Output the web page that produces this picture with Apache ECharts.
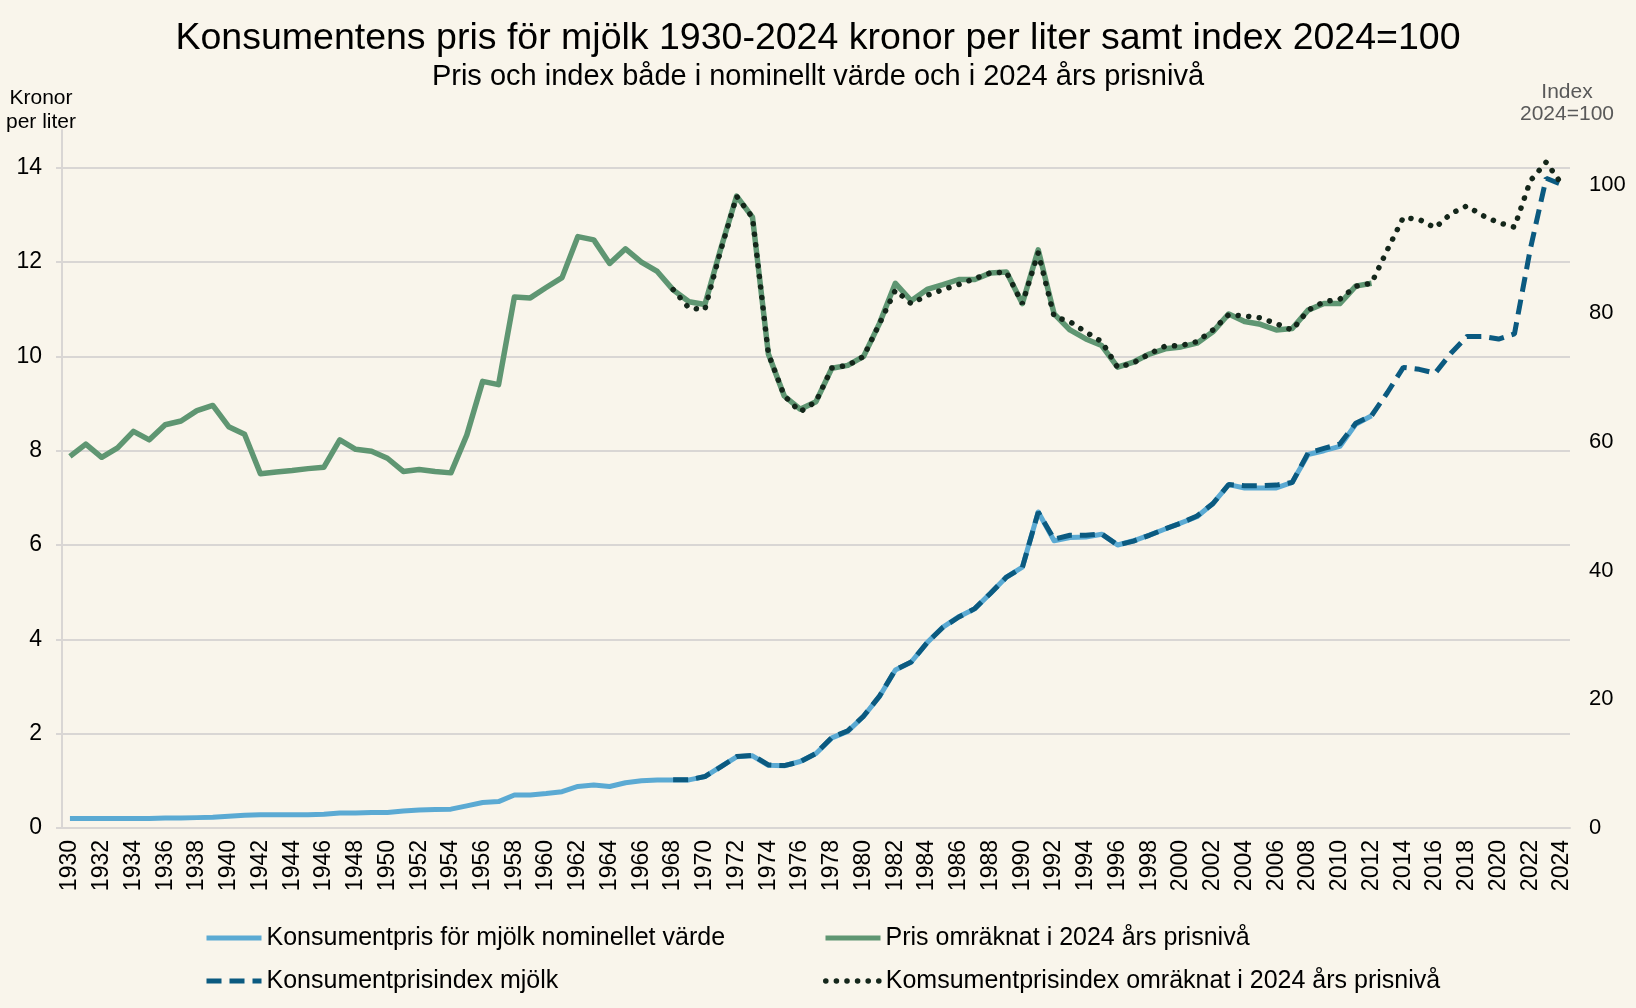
<!DOCTYPE html>
<html><head><meta charset="utf-8">
<script src="https://cdn.jsdelivr.net/npm/echarts@6/dist/echarts.min.js"></script>
<style>html,body{margin:0;padding:0;background:#F9F5EB;}#c{width:1636px;height:1008px;}</style>
</head><body><div id="c"></div>
<script>
const years = ['1930','1931','1932','1933','1934','1935','1936','1937','1938','1939','1940','1941','1942','1943','1944','1945','1946','1947','1948','1949','1950','1951','1952','1953','1954','1955','1956','1957','1958','1959','1960','1961','1962','1963','1964','1965','1966','1967','1968','1969','1970','1971','1972','1973','1974','1975','1976','1977','1978','1979','1980','1981','1982','1983','1984','1985','1986','1987','1988','1989','1990','1991','1992','1993','1994','1995','1996','1997','1998','1999','2000','2001','2002','2003','2004','2005','2006','2007','2008','2009','2010','2011','2012','2013','2014','2015','2016','2017','2018','2019','2020','2021','2022','2023','2024'];

// Kronor per liter, 1930-2012
const nominalPrice = [0.20,0.20,0.20,0.20,0.20,0.20,0.21,0.21,0.22,0.23,0.25,0.27,0.28,0.28,0.28,0.28,0.29,0.32,0.32,0.33,0.33,0.36,0.38,0.39,0.40,0.47,0.54,0.56,0.70,0.70,0.73,0.77,0.88,0.91,0.88,0.96,1.00,1.02,1.02,1.02,1.09,1.30,1.51,1.53,1.33,1.32,1.41,1.58,1.91,2.05,2.37,2.79,3.35,3.52,3.93,4.26,4.48,4.65,4.98,5.32,5.53,6.70,6.09,6.16,6.17,6.23,6.00,6.09,6.21,6.34,6.47,6.60,6.88,7.28,7.21,7.21,7.21,7.33,7.92,8.00,8.09,8.56,8.74];

// Kronor per liter in 2024 prices, 1930-2012
const realPrice = [7.88,8.14,7.86,8.06,8.41,8.23,8.55,8.63,8.85,8.96,8.51,8.35,7.51,7.55,7.58,7.62,7.65,8.23,8.03,7.99,7.84,7.56,7.60,7.56,7.53,8.33,9.47,9.40,11.26,11.24,11.46,11.67,12.54,12.47,11.97,12.28,12.00,11.80,11.41,11.16,11.10,12.28,13.40,12.95,10.05,9.16,8.88,9.04,9.75,9.81,10.00,10.70,11.55,11.18,11.42,11.52,11.63,11.63,11.77,11.79,11.12,12.26,10.90,10.56,10.37,10.23,9.77,9.88,10.05,10.16,10.20,10.28,10.52,10.90,10.74,10.68,10.56,10.59,10.98,11.12,11.12,11.49,11.55];

// Index 2024=100, 1968-2024
const indexStartYear = '1968';
const nominalIndex = [7.5,7.5,8.0,9.5,11.1,11.3,9.8,9.7,10.3,11.6,14.1,15.1,17.4,20.5,24.6,25.8,28.8,31.2,32.8,34.1,36.5,39.0,40.5,49.1,44.9,45.5,45.5,45.7,44.0,44.6,45.5,46.5,47.4,48.5,50.4,53.4,53.2,53.2,53.3,53.7,58.3,59.0,59.7,62.9,64.1,67.7,71.6,71.3,70.7,73.8,76.4,76.4,76.0,76.8,90.0,101.0,100.0];
const realIndex = [83.7,80.8,80.6,89.8,98.2,94.9,73.7,67.2,64.7,66.3,71.5,71.9,73.3,78.4,83.6,81.5,82.8,83.7,84.5,85.4,86.3,86.4,81.5,89.4,79.5,78.7,77.1,75.6,71.6,72.3,73.7,74.9,75.0,75.6,77.4,79.8,79.6,79.3,78.4,77.4,80.5,81.8,82.2,84.2,84.7,89.9,94.9,94.6,93.3,95.5,96.7,95.2,94.1,93.4,100.6,103.5,100.0];

const names = ['Konsumentpris för mjölk nominellet värde','Pris omräknat i 2024 års prisnivå','Konsumentprisindex mjölk','Komsumentprisindex omräknat i 2024 års prisnivå'];

const pad = years.indexOf(indexStartYear);
const padIdx = arr => new Array(pad).fill(null).concat(arr);

const FONT = "'Liberation Sans', Arial, sans-serif";
const GRID = '#D9D6D4';
const C_GREEN = '#5F9672', C_LBLUE = '#5BAAD3', C_DBLUE = '#0B5A80', C_DOT = '#14261A';
const DASH = [15, 8], DOT = [0.1, 10.5];

const chart = echarts.init(document.getElementById('c'), null, {renderer:'canvas'});
function legendFor(name, left, top, lineStyle) {
  return {data:[name], left:left, top:top, padding:0, orient:'vertical',
    itemWidth:55, itemHeight:14, itemGap:0,
    itemStyle:{opacity:0}, lineStyle:lineStyle,
    textStyle:{fontSize:25, color:'#000', fontFamily:FONT, lineHeight:28}};
}
chart.setOption({
  backgroundColor:'#F9F5EB',
  animation:false,
  textStyle:{fontFamily:FONT},
  graphic:[
    {type:'text', left:'center', top:20, style:{text:'Konsumentens pris för mjölk 1930-2024 kronor per liter samt index 2024=100', font:"37.5px 'Liberation Sans', Arial", fill:'#000'}},
    {type:'text', left:'center', top:62, style:{text:'Pris och index både i nominellt värde och i 2024 års prisnivå', font:"29px 'Liberation Sans', Arial", fill:'#000'}},
    {type:'text', x:41, y:110, style:{text:'Kronor\nper liter', font:"21px 'Liberation Sans', Arial", lineHeight:24, fill:'#000', align:'center', verticalAlign:'middle'}},
    {type:'text', x:1567, y:103, style:{text:'Index\n2024=100', font:"21px 'Liberation Sans', Arial", lineHeight:22, fill:'#595959', align:'center', verticalAlign:'middle'}}
  ],
  grid:{left:62, right:66, top:130, bottom:180, containLabel:false},
  legend:[
    legendFor(names[0], 204, 924, {width:5}),
    legendFor(names[1], 823, 924, {width:5}),
    legendFor(names[2], 204, 967, {width:5, type:DASH}),
    legendFor(names[3], 823, 967, {width:5.5, type:DOT, cap:'round'})
  ],
  xAxis:{type:'category', data:years, boundaryGap:true,
    axisLine:{show:true, lineStyle:{color:GRID, width:2}},
    axisTick:{show:false},
    axisLabel:{interval:1, rotate:90, margin:12, fontSize:23, color:'#000', fontFamily:FONT}},
  yAxis:[
    {type:'value', min:0, max:14.8, interval:2, position:'left',
      axisLine:{show:true, lineStyle:{color:GRID, width:2}},
      axisTick:{show:true, length:6, lineStyle:{color:GRID, width:2}},
      axisLabel:{margin:20, fontSize:23, color:'#000', fontFamily:FONT, showMaxLabel:false},
      splitLine:{show:true, showMaxLine:false, lineStyle:{color:GRID, width:2}}},
    {type:'value', min:0, max:108.5, interval:20, position:'right',
      axisLine:{show:false}, axisTick:{show:false}, splitLine:{show:false},
      axisLabel:{margin:19, fontSize:22, color:'#000', fontFamily:FONT, showMaxLabel:false}}
  ],
  series:[
    {name:names[1], type:'line', data:realPrice, yAxisIndex:0, symbol:'none', z:2,
      lineStyle:{color:C_GREEN, width:5.5, join:'round'}, itemStyle:{color:C_GREEN}},
    {name:names[0], type:'line', data:nominalPrice, yAxisIndex:0, symbol:'none', z:3,
      lineStyle:{color:C_LBLUE, width:5, join:'round'}, itemStyle:{color:C_LBLUE}},
    {name:names[2], type:'line', data:padIdx(nominalIndex), yAxisIndex:1, symbol:'none', z:4,
      lineStyle:{color:C_DBLUE, width:5, type:DASH}, itemStyle:{color:C_DBLUE}},
    {name:names[3], type:'line', data:padIdx(realIndex), yAxisIndex:1, symbol:'none', z:5,
      lineStyle:{color:C_DOT, width:5.5, type:DOT, cap:'round'}, itemStyle:{color:C_DOT}}
  ]
});
</script></body></html>
